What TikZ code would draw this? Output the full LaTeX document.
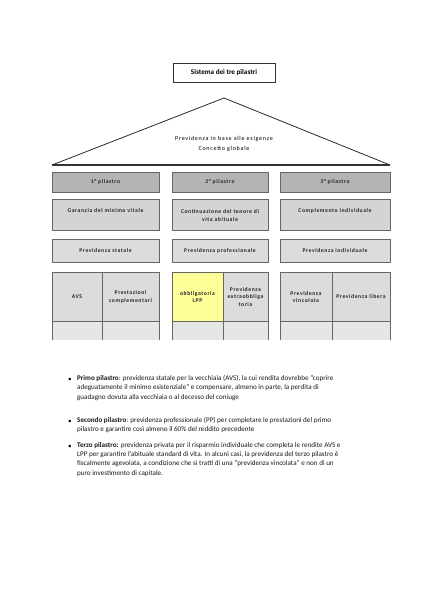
\documentclass[tikz,border=0pt]{standalone}
\usepackage{fontspec}
\setmainfont{Carlito}
\newfontfamily\cellfont[LetterSpace=10]{Carlito}
\newfontfamily\rooffont[LetterSpace=12]{Carlito}
\begin{document}
\begin{tikzpicture}[x=1.4035pt,y=-1.4035pt,
  bx/.style={draw=bordc,line width=0.6pt},
  lbl/.style={font=\cellfont\fontsize{8}{10}\selectfont\bfseries,align=center,text=black!85},
  para/.style={anchor=north west,align=left,font=\fontsize{10}{13.1}\selectfont,inner sep=0pt,text=black!90}]
\definecolor{bordc}{HTML}{666666}
\definecolor{hdr}{HTML}{B4B4B4}
\definecolor{rowa}{HTML}{D4D4D4}
\definecolor{rowb}{HTML}{DCDCDC}
\definecolor{rowc}{HTML}{E6E6E6}
\definecolor{ylw}{HTML}{FFFF99}
\useasboundingbox[fill=white] (0,0) rectangle (424,600);
% title
\node[bx,draw=black!80,minimum width=102*1.4035pt,minimum height=19*1.4035pt,font=\fontsize{10}{12}\selectfont\bfseries] (title) at (224,72.5) {Sistema dei tre pilastri};
% roof
\coordinate (apex) at (224,98);
\coordinate (bl) at (52,165);
\coordinate (br) at (390,165);
\draw[line width=1.1pt,draw=black!85,line join=round] (bl) -- (apex) -- (br);
\draw[line width=1.8pt,draw=black!80] (bl) -- (br);
\node[font=\rooffont\fontsize{8.5}{13.5}\selectfont,align=center] (roof) at (224,144) {Previdenza in base alle esigenze\\Concetto globale};
% header row
\filldraw[bx,fill=hdr] (52,172) rectangle (159,192);
\filldraw[bx,fill=hdr] (172,172) rectangle (268,192);
\filldraw[bx,fill=hdr] (280,172) rectangle (390,192);
\node[lbl] (h1) at (105.5,182) {1° pilastro};
\node[lbl] (h2) at (220,182) {2° pilastro};
\node[lbl] (h3) at (335,182) {3° pilastro};
% row 2
\filldraw[bx,fill=rowa] (52,199) rectangle (159,230);
\filldraw[bx,fill=rowa] (172,199) rectangle (268,230);
\filldraw[bx,fill=rowa] (280,199) rectangle (390,230);
\node[lbl] (g1) at (105.5,211) {Garanzia del minimo vitale};
\node[lbl] (g2) at (220,215.5) {Continuazione del tenore di\\vita abituale};
\node[lbl] (g3) at (335,211) {Complemento individuale};
% row 3
\filldraw[bx,fill=rowb] (52,239) rectangle (159,262);
\filldraw[bx,fill=rowb] (172,239) rectangle (268,262);
\filldraw[bx,fill=rowb] (280,239) rectangle (390,262);
\node[lbl] (p1) at (105.5,250.5) {Previdenza statale};
\node[lbl] (p2) at (220,250.5) {Previdenza professionale};
\node[lbl] (p3) at (335,250.5) {Previdenza individuale};
% row 4 cells
\fill[rowb] (52,272) rectangle (159,321);
\fill[ylw] (172,272) rectangle (223,321);
\fill[rowb] (223,272) rectangle (268,321);
\fill[rowb] (280,272) rectangle (390,321);
\fill[rowc] (52,321) rectangle (159,340);
\fill[rowc] (172,321) rectangle (268,340);
\fill[rowc] (280,321) rectangle (390,340);
\foreach \l/\m/\r in {52/102/159,172/223/268,280/332/390}{
  \draw[bx] (\l,340) -- (\l,272) -- (\r,272) -- (\r,340);
  \draw[bx] (\m,272) -- (\m,340);
  \draw[bx] (\l,321) -- (\r,321);
}
\node[lbl] (c1) at (77,297) {AVS};
\node[lbl] (c2) at (130.5,297) {Prestazioni\\complementari};
\node[lbl] (c3) at (197.5,297) {obbligatoria\\LPP};
\node[lbl] (c4) at (245.5,297) {Previdenza\\extraobbliga\\toria};
\node[lbl] (c5) at (306,297) {Previdenza\\vincolata};
\node[lbl] (c6) at (361,297) {Previdenza libera};
% bullets
\node[font=\fontsize{10}{12}\selectfont] (b1) at (70,380) {•};
\node[para] (t1) at (77,375) {\textbf{Primo pilastro}: previdenza statale per la vecchiaia (AVS), la cui rendita dovrebbe “coprire\\adeguatamente il minimo esistenziale” e compensare, almeno in parte, la perdita di\\guadagno dovuta alla vecchiaia o al decesso del coniuge};
\node[font=\fontsize{10}{12}\selectfont] (b2) at (70,422) {•};
\node[para] (t2) at (77,417) {\textbf{Secondo pilastro}: previdenza professionale (PP) per completare le prestazioni del primo\\pilastro e garantire così almeno il 60\% del reddito precedente};
\node[font=\fontsize{10}{12}\selectfont] (b3) at (70,447) {•};
\node[para] (t3) at (77,442) {\textbf{Terzo pilastro:} previdenza privata per il risparmio individuale che completa le rendite AVS e\\LPP per garantire l’abituale standard di vita. In alcuni casi, la previdenza del terzo pilastro è\\fiscalmente agevolata, a condizione che si tratti di una “previdenza vincolata” e non di un\\puro investimento di capitale.};
\end{tikzpicture}
\end{document}
